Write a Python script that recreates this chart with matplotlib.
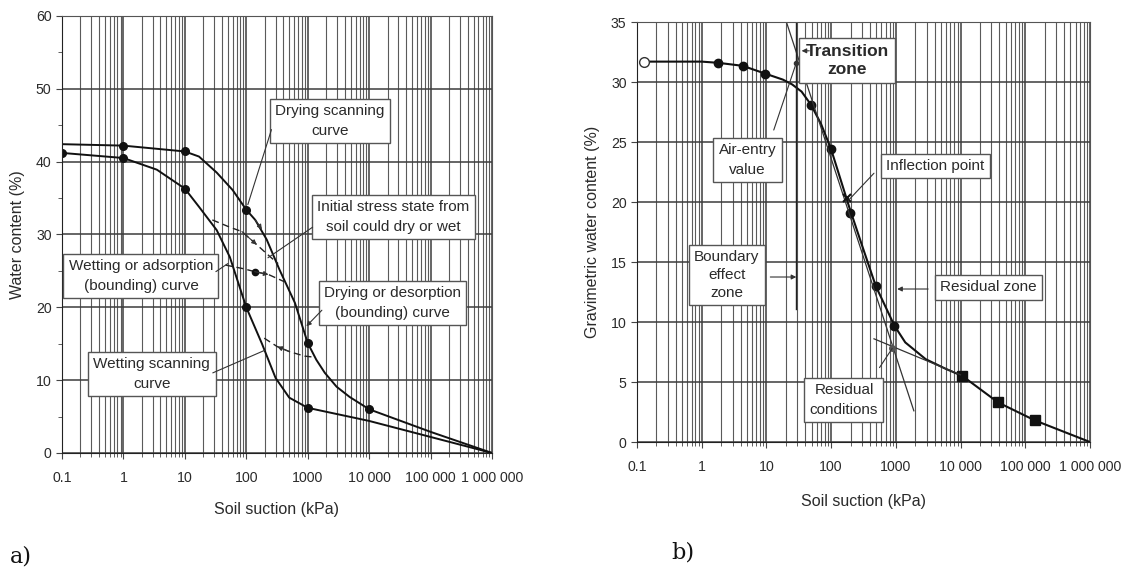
import matplotlib
matplotlib.use('Agg')
import matplotlib.pyplot as plt
from matplotlib.ticker import FixedLocator, LogLocator, MultipleLocator, NullFormatter

plt.rcParams['font.family'] = ['Liberation Sans', 'DejaVu Sans']

# shared suction axis
suction_ticks = [0.1, 1, 10, 100, 1000, 1e4, 1e5, 1e6]
suction_labels = ['0.1', '1', '10', '100', '1000', '10 000', '100 000', '1 000 000']

# a) hysteresis: drying (desorption) and wetting (adsorption) bounding curves
drying_x = [0.1, 1, 10, 17, 33, 60, 100, 140, 215, 350, 620, 1000, 1380, 1900, 2950, 4800, 10000, 100000, 1e6]
drying_w = [42.4, 42.2, 41.4, 40.7, 38.5, 36.1, 33.4, 32.0, 29.3, 25.1, 20.6, 15.1, 12.8, 11.0, 9.1, 7.7, 6.0, 2.9, 0]
drying_pts_x = [1, 10, 100, 1000, 10000]
drying_pts_w = [42.2, 41.4, 33.4, 15.1, 6.0]

wetting_x = [0.1, 1, 3.5, 10, 17, 33, 54, 100, 180, 300, 500, 1000, 10000, 100000, 1e6]
wetting_w = [41.2, 40.5, 38.9, 36.3, 33.8, 30.6, 26.9, 20.0, 15.0, 10.3, 7.6, 6.2, 4.4, 2.2, 0]
wetting_pts_x = [0.1, 1, 10, 100, 1000]
wetting_pts_w = [41.2, 40.5, 36.3, 20.0, 6.2]

# scanning curves between the bounding curves
scan_dry_x = [28, 54, 85, 148, 240, 330]
scan_dry_w = [32.0, 31.0, 30.4, 28.6, 27.0, 26.0]
scan_init_x = [46, 90, 137, 230, 420]
scan_init_w = [25.8, 25.3, 24.9, 24.5, 23.5]
scan_wet_x = [1150, 890, 510, 320, 185]
scan_wet_w = [13.2, 13.3, 13.9, 14.6, 15.9]
init_state = (137, 24.9)

# b) soil-water characteristic curve with zones
swcc_x = [0.13, 1, 1.8, 4.3, 9.6, 18, 25, 35, 49, 70, 100, 190, 300, 490, 950, 1400, 2900, 5900, 10700, 38000, 141000, 1e6]
swcc_w = [31.7, 31.7, 31.6, 31.35, 30.7, 30.2, 29.8, 29.2, 28.1, 26.5, 24.4, 19.6, 16.4, 13.0, 9.7, 8.3, 6.9, 6.1, 5.5, 3.3, 1.8, 0]
lab_x = [1.8, 4.3, 9.6, 49, 100, 195, 490, 950]
lab_w = [31.6, 31.35, 30.7, 28.1, 24.4, 19.1, 13.0, 9.7]
field_x = [10700, 38000, 141000]
field_w = [5.5, 3.3, 1.8]
tangent_x = [20.4, 1900]
tangent_w = [35, 2.6]
residual_x = [460, 10000]
residual_w = [8.6, 5.6]
air_entry = (29, 31.6)
inflection = (178, 20.3)
residual_pt = (880, 7.8)

TXT = '#2a2a2a'
BOX = dict(boxstyle='square,pad=0.35', fc='white', ec='#555555', lw=1.0)


def style_axes(ax, ymax, ystep, yminor=None):
    ax.set_xscale('log')
    ax.set_xlim(0.1, 1e6)
    ax.set_ylim(0, ymax)
    ax.xaxis.set_major_locator(FixedLocator(suction_ticks))
    ax.set_xticklabels(suction_labels)
    ax.xaxis.set_minor_locator(LogLocator(base=10, subs=range(2, 10), numticks=20))
    ax.xaxis.set_minor_formatter(NullFormatter())
    ax.yaxis.set_major_locator(MultipleLocator(ystep))
    if yminor:
        ax.yaxis.set_minor_locator(MultipleLocator(yminor))
    ax.grid(which='major', axis='both', color='#3c3c3c', lw=1.1)
    ax.grid(which='minor', axis='x', color='#5a5a5a', lw=0.8)
    ax.set_axisbelow(True)
    ax.tick_params(which='both', labelsize=10.2, colors='#444444', labelcolor=TXT, length=4)
    ax.tick_params(axis='x', pad=9)
    ax.tick_params(which='minor', length=3)
    for s in ax.spines.values():
        s.set_color('#555555')
    ax.spines['left'].set_color('#222222')
    ax.spines['bottom'].set_color('#222222')


def leader(ax, start, end, arrow=False):
    ax.annotate('', xy=end, xytext=start,
                arrowprops=dict(arrowstyle='-|>' if arrow else '-', lw=0.8, color='#333333',
                                mutation_scale=7, shrinkA=0, shrinkB=0))


fig = plt.figure(figsize=(11.35, 5.75), dpi=100)

# ---------------- panel a ----------------
ax1 = fig.add_axes([0.0546, 0.2122, 0.3789, 0.76])
style_axes(ax1, 60, 10, 5)
ax1.plot(drying_x, drying_w, color='#111111', lw=1.4)
ax1.plot(wetting_x, wetting_w, color='#111111', lw=1.4)
ax1.plot(drying_pts_x, drying_pts_w, 'o', color='#111111', ms=5.5)
ax1.plot(wetting_pts_x, wetting_pts_w, 'o', color='#111111', ms=5.5)
for xs, ws in [(scan_dry_x, scan_dry_w), (scan_init_x, scan_init_w), (scan_wet_x, scan_wet_w)]:
    ax1.plot(xs, ws, color='#222222', lw=1.0, ls=(0, (5, 3)))
    leader(ax1, (xs[2], ws[2]), (xs[3], ws[3]), arrow=True)
ax1.plot(*init_state, 'o', color='#111111', ms=4.5)
leader(ax1, (140, 32.0), (180, 30.7), arrow=True)

ax1.set_xlabel('Soil suction (kPa)', fontsize=11.5, color=TXT, labelpad=12)
ax1.set_ylabel('Water content (%)', fontsize=11.5, color=TXT, labelpad=8)

ax1.text(2280, 45.6, 'Drying scanning\ncurve', ha='center', va='center', fontsize=11, color=TXT, bbox=BOX, linespacing=1.5)
leader(ax1, (257, 44.4), (106, 34.1))
ax1.text(25000, 32.4, 'Initial stress state from\nsoil could dry or wet', ha='center', va='center', fontsize=11, color=TXT, bbox=BOX, linespacing=1.5)
leader(ax1, (1200, 31.0), (225, 26.8))
ax1.text(1.93, 24.3, 'Wetting or adsorption\n(bounding) curve', ha='center', va='center', fontsize=11, color=TXT, bbox=BOX, linespacing=1.5)
leader(ax1, (32, 24.9), (50, 26.0))
ax1.text(2.9, 10.85, 'Wetting scanning\ncurve', ha='center', va='center', fontsize=11, color=TXT, bbox=BOX, linespacing=1.5)
leader(ax1, (28.5, 11.0), (200, 14.1))
ax1.text(24000, 20.6, 'Drying or desorption\n(bounding) curve', ha='center', va='center', fontsize=11, color=TXT, bbox=BOX, linespacing=1.5)
leader(ax1, (1700, 19.6), (950, 17.4), arrow=True)

# ---------------- panel b ----------------
ax2 = fig.add_axes([0.5612, 0.2313, 0.3991, 0.7304])
style_axes(ax2, 35, 5)
ax2.plot(swcc_x, swcc_w, color='#111111', lw=1.5)
ax2.plot(swcc_x[0], swcc_w[0], 'o', mfc='white', mec='#333333', ms=7)
ax2.plot(lab_x, lab_w, 'o', color='#111111', ms=6)
ax2.plot(field_x, field_w, 's', color='#111111', ms=7)
ax2.plot(tangent_x, tangent_w, color='#333333', lw=0.9)
ax2.plot(residual_x, residual_w, color='#333333', lw=0.9)
ax2.plot([air_entry[0], air_entry[0]], [35, 11.1], color='#222222', lw=1.0)
ax2.plot(*air_entry, 'o', color='#333333', ms=3)
ax2.plot(*inflection, 'x', color='#111111', ms=6, mew=1.5)
ax2.plot(*residual_pt, 'o', color='#555555', ms=4)

ax2.set_xlabel('Soil suction (kPa)', fontsize=11.5, color=TXT, labelpad=14)
ax2.set_ylabel('Gravimetric water content (%)', fontsize=11.5, color=TXT, labelpad=8)

ax2.text(176, 31.8, 'Transition\nzone', ha='center', va='center', fontsize=12.5, fontweight='bold', color=TXT, bbox=BOX, linespacing=1.3)
leader(ax2, (46, 32.6), (35, 32.6), arrow=True)
ax2.text(5.1, 23.5, 'Air-entry\nvalue', ha='center', va='center', fontsize=11, color=TXT, bbox=BOX, linespacing=1.5)
leader(ax2, (13, 26.0), air_entry)
ax2.text(4120, 23.0, 'Inflection point', ha='center', va='center', fontsize=11, color=TXT, bbox=BOX)
leader(ax2, (460, 22.4), (190, 20.2))
ax2.text(2.43, 13.9, 'Boundary\neffect\nzone', ha='center', va='center', fontsize=11, color=TXT, bbox=BOX, linespacing=1.35)
leader(ax2, (11.5, 13.75), (29, 13.75), arrow=True)
ax2.text(27000, 12.9, 'Residual zone', ha='center', va='center', fontsize=11, color=TXT, bbox=BOX)
leader(ax2, (3160, 12.75), (1050, 12.75), arrow=True)
ax2.text(158, 3.5, 'Residual\nconditions', ha='center', va='center', fontsize=11, color=TXT, bbox=BOX, linespacing=1.5)
leader(ax2, (560, 6.2), residual_pt)

fig.text(0.018, 0.033, 'a)', fontsize=16, family='serif', color='#111111', ha='center', va='center')
fig.text(0.602, 0.04, 'b)', fontsize=16, family='serif', color='#111111', ha='center', va='center')

fig.savefig('out.png', dpi=100)
